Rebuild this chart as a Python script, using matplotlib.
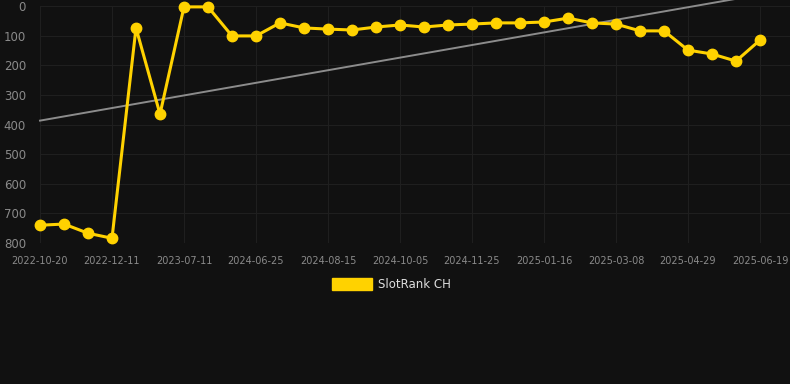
import numpy as np
import matplotlib.pyplot as plt

# ------------------ DATA ------------------
RANKS = [740, 736, 767, 784, 74, 365, 3, 3, 101, 101, 57, 74, 78, 81, 71, 64,
         71, 64, 61, 57, 57, 54, 41, 57, 61, 84, 84, 149, 162, 186, 115]
TICK_LABELS = ["2022-10-20", "2022-12-11", "2023-07-11", "2024-06-25",
               "2024-08-15", "2024-10-05", "2024-11-25", "2025-01-16",
               "2025-03-08", "2025-04-29", "2025-06-19"]
Y_TICKS = [0, 100, 200, 300, 400, 500, 600, 700, 800]
SERIES_NAME = "SlotRank CH"

BG = "#111111"
GOLD = "#FFD200"
GRID = "#1f1f1f"
TICK_COLOR = "#8a8a8a"

# ------------------ PLOT ------------------
x = np.arange(len(RANKS))
fig = plt.figure(figsize=(7.9, 3.84), dpi=100, facecolor=BG)
ax = fig.add_axes([40 / 790, 1 - 243 / 384, 750 / 790, 237 / 384])
ax.set_facecolor(BG)

# linear trend line
coef = np.polyfit(x, RANKS, 1)
ax.plot(x, np.polyval(coef, x), color="#8c8c8c", lw=1.4, clip_on=False, zorder=2)

ax.plot(x, RANKS, color=GOLD, lw=2.2, marker="o", ms=7.5, clip_on=False, zorder=3)

ax.set_xlim(0, 31.25)
ax.set_ylim(800, 0)
ax.set_yticks(Y_TICKS)
ax.set_xticks(x[::3])
ax.set_xticklabels(TICK_LABELS)
ax.grid(True, color=GRID, lw=0.8)
ax.set_axisbelow(True)
for s in ax.spines.values():
    s.set_visible(False)
ax.tick_params(axis="y", colors=TICK_COLOR, labelsize=8.5, length=0, pad=10)
ax.tick_params(axis="x", colors=TICK_COLOR, labelsize=7, length=0, pad=9)

# legend
fig.patches.append(plt.Rectangle((332 / 790, 1 - 290 / 384), 40 / 790, 12 / 384,
                                 transform=fig.transFigure, color=GOLD))
fig.text(378 / 790, 1 - 284 / 384, SERIES_NAME, color="#dddddd", fontsize=8.5,
         va="center", ha="left")

plt.savefig("out.png", dpi=100, facecolor=BG)
plt.close()
